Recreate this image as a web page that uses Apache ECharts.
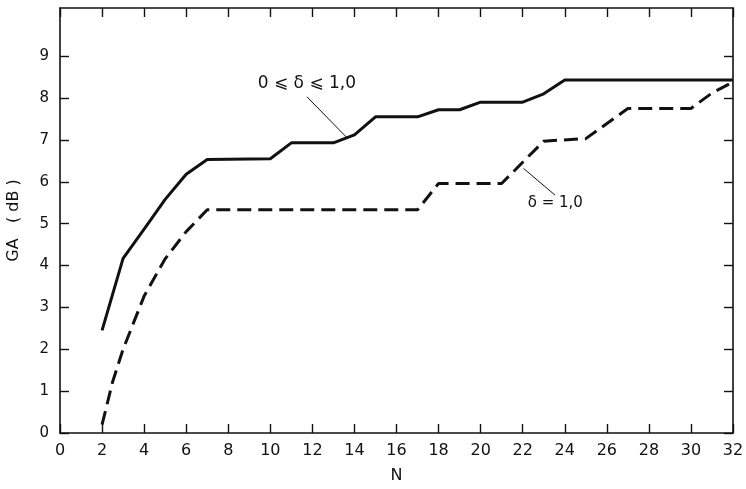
<!DOCTYPE html>
<html>
<head>
<meta charset="utf-8">
<script src="https://cdn.jsdelivr.net/npm/echarts@6/dist/echarts.min.js"></script>
<style>
  html, body { margin: 0; padding: 0; background: #fff; }
  #chart { width: 746px; height: 489px; }
</style>
</head>
<body>
<div id="chart"></div>
<script>
// courbe pleine : 0 <= delta <= 1,0
const nSolid = [2, 3, 4, 5, 6, 7, 10, 11, 13, 14, 15, 17, 18, 19, 20, 22, 23, 24, 32]
const gSolid = [2.45, 4.17, 4.87, 5.58, 6.18, 6.53, 6.55, 6.93, 6.93, 7.12, 7.55, 7.55, 7.72, 7.72, 7.9, 7.9, 8.1, 8.43, 8.43]

// courbe tiretee : delta = 1,0
const nDashed = [2, 2.5, 3, 4, 5, 6, 7, 17, 18, 21, 23, 25, 27, 30, 31, 32]
const gDashed = [0.2, 1.22, 2.0, 3.27, 4.16, 4.81, 5.33, 5.33, 5.96, 5.96, 6.97, 7.03, 7.75, 7.75, 8.12, 8.38]

const yTicks = [0, 1, 2, 3, 4, 5, 6, 7, 8, 9]
const labelSolid = '0 ⩽ δ ⩽ 1,0'
const labelDashed = 'δ = 1,0'

const ink = '#111'
const font = 'DejaVu Sans'

const zip = (xs, ys) => xs.map((x, i) => [x, ys[i]])

const myChart = echarts.init(document.getElementById('chart'), null, { renderer: 'canvas' })

const axisCommon = {
  type: 'value',
  splitLine: { show: false },
  axisLine: { show: true, onZero: false, lineStyle: { color: ink, width: 1.6 } },
  axisTick: { show: true, inside: true, length: 9, lineStyle: { color: ink, width: 1.4 } }
}

const option = {
  backgroundColor: '#fff',
  animation: false,
  grid: { left: 60, right: 13, top: 8, bottom: 56, containLabel: false, outerBoundsMode: 'none' },
  xAxis: [
    {
      ...axisCommon,
      position: 'bottom',
      min: 0,
      max: 32,
      interval: 2,
      name: 'N',
      nameLocation: 'middle',
      nameGap: 35,
      nameTextStyle: { color: ink, fontFamily: font, fontSize: 16 },
      axisLabel: { color: ink, fontFamily: font, fontSize: 16, margin: 10 }
    },
    {
      ...axisCommon,
      position: 'top',
      min: 0,
      max: 32,
      interval: 2,
      axisLabel: { show: false }
    }
  ],
  yAxis: [
    {
      ...axisCommon,
      position: 'left',
      min: 0,
      max: 10.15,
      interval: 1,
      name: 'GA   ( dB )',
      nameLocation: 'middle',
      nameGap: 38,
      nameRotate: 90,
      nameTextStyle: { color: ink, fontFamily: font, fontSize: 16 },
      axisTick: { ...axisCommon.axisTick, customValues: yTicks },
      axisLabel: { color: ink, fontFamily: font, fontSize: 15, margin: 11, customValues: yTicks }
    },
    {
      ...axisCommon,
      position: 'right',
      min: 0,
      max: 10.15,
      interval: 1,
      axisTick: { ...axisCommon.axisTick, customValues: yTicks },
      axisLabel: { show: false }
    }
  ],
  series: [
    {
      type: 'line',
      data: zip(nSolid, gSolid),
      showSymbol: false,
      lineStyle: { color: ink, width: 3, join: 'round' },
      markLine: {
        silent: true,
        symbol: 'none',
        label: { show: false },
        lineStyle: { color: ink, width: 1, type: 'solid' },
        data: [[{ coord: [11.74, 8.03] }, { coord: [13.65, 7.05] }]]
      },
      markPoint: {
        symbol: 'circle',
        symbolSize: 0,
        label: { show: true, position: 'inside', color: ink, fontFamily: font, fontSize: 17, formatter: labelSolid },
        data: [{ coord: [11.74, 8.35] }]
      }
    },
    {
      type: 'line',
      data: zip(nDashed, gDashed),
      showSymbol: false,
      lineStyle: { color: ink, width: 3, type: [14, 7] },
      markLine: {
        silent: true,
        symbol: 'none',
        label: { show: false },
        lineStyle: { color: ink, width: 1, type: 'solid' },
        data: [[{ coord: [22.04, 6.32] }, { coord: [23.54, 5.68] }]]
      },
      markPoint: {
        symbol: 'circle',
        symbolSize: 0,
        label: { show: true, position: 'inside', color: ink, fontFamily: font, fontSize: 15, formatter: labelDashed },
        data: [{ coord: [23.55, 5.48] }]
      }
    }
  ]
}

myChart.setOption(option)
</script>
</body>
</html>
